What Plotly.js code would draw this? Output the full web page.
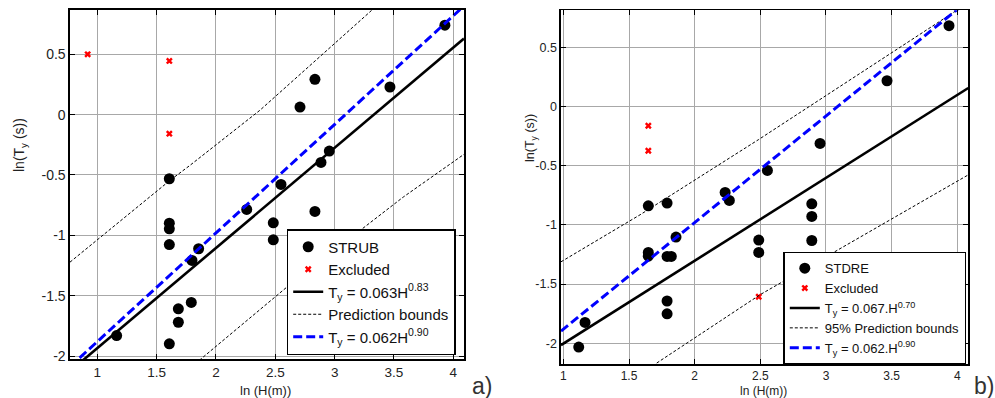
<!DOCTYPE html>
<html>
<head>
<meta charset="utf-8">
<script src="https://cdn.plot.ly/plotly-3.0.1.min.js"></script>
<style>
  html, body { margin: 0; padding: 0; background: #ffffff; }
  #chart { width: 995px; height: 398px; }
</style>
</head>
<body>
<div id="chart"></div>
<script>
// ---- Panel a) STRUB ----
const strubLnH = [3.929, 2.834, 2.708, 3.466, 2.955, 2.885, 2.548, 2.834, 2.483, 2.483, 2.259,
                  1.607, 1.607, 1.607, 1.607, 1.854, 1.798, 1.792, 1.683, 1.683, 1.607, 1.163];
const strubLnT = [0.741, 0.293, 0.063, 0.229, -0.302, -0.396, -0.578, -0.802, -0.896, -1.037, -0.785,
                  -0.531, -0.899, -0.946, -1.076, -1.111, -1.208, -1.556, -1.609, -1.720, -1.899, -1.830];
const strubExclLnH = [0.919, 1.607, 1.607];
const strubExclLnT = [0.500, 0.445, -0.158];
const strubFit = [0.063, 0.83];          // T_y = a * H^b
const strubUpperLnH = [0.77, 1.612, 1.781, 2.37, 3.297, 3.32];
const strubUpperLnT = [-1.222, -0.545, -0.420, 0.036, 0.851, 0.872];
const strubLowerLnH = [1.86, 2.596, 3.578, 4.098];
const strubLowerLnT = [-2.035, -1.430, -0.683, -0.323];

// ---- Panel b) STDRE ----
const stdreLnH = [3.937, 3.465, 2.955, 2.554, 2.892, 2.892, 2.892, 2.232, 2.264, 1.647, 1.790,
                  1.858, 1.647, 1.647, 1.790, 1.822, 1.790, 1.790, 1.165, 1.117, 2.488, 2.488];
const stdreLnT = [0.682, 0.217, -0.312, -0.540, -0.822, -0.929, -1.132, -0.726, -0.794, -0.839, -0.816,
                  -1.103, -1.233, -1.264, -1.267, -1.267, -1.643, -1.751, -1.824, -2.032, -1.128, -1.233];
const stdreExclLnH = [1.647, 1.647, 2.488];
const stdreExclLnT = [-0.163, -0.374, -1.607];
const stdreFit = [0.067, 0.70];
const stdreUpperLnH = [0.982, 1.584, 2.485, 3.920, 4.00];
const stdreUpperLnT = [-1.312, -0.915, -0.281, 0.760, 0.815];
const stdreLowerLnH = [1.711, 2.498, 4.085];
const stdreLowerLnT = [-2.167, -1.590, -0.577];

// Reference relation drawn on both panels
const refFit = [0.062, 0.90];

// Axis ranges and ticks
const rangeA_x = [0.77, 4.09], rangeA_y = [-2.027, 0.867];
const rangeB_x = [0.982, 4.084], rangeB_y = [-2.175, 0.812];
const xTickVals = [1, 1.5, 2, 2.5, 3, 3.5, 4];
const xTickText = ['1', '1.5', '2', '2.5', '3', '3.5', '4'];
const yTickVals = [-2, -1.5, -1, -0.5, 0, 0.5];
const yTickText = ['-2', '-1.5', '-1', '-0.5', '0', '0.5'];

const FONT = 'Liberation Sans, Arial, Helvetica, sans-serif';
const W = 995, H = 398;
const fx = p => p / W;
const fy = p => 1 - p / H;

// ln T = ln a + b ln H, evaluated at the ends of the x range
function powerLine(coef, xr) {
  return { x: xr.slice(), y: xr.map(v => Math.log(coef[0]) + coef[1] * v) };
}

const fitA = powerLine(strubFit, rangeA_x);
const refA = powerLine(refFit, rangeA_x);
const fitB = powerLine(stdreFit, rangeB_x);
const refB = powerLine(refFit, rangeB_x);

const dotMarker = { color: '#000000', size: 11, symbol: 'circle' };
const crossMarker = { color: '#ff0000', size: 6, symbol: 'x', line: { width: 0 } };

const traces = [
  // panel a
  { x: strubLnH, y: strubLnT, mode: 'markers', type: 'scatter', name: 'STRUB',
    marker: dotMarker, xaxis: 'x', yaxis: 'y', legend: 'legend' },
  { x: strubExclLnH, y: strubExclLnT, mode: 'markers', type: 'scatter', name: 'Excluded',
    marker: crossMarker, xaxis: 'x', yaxis: 'y', legend: 'legend' },
  { x: fitA.x, y: fitA.y, mode: 'lines', type: 'scatter', name: 'T<sub>y</sub> = 0.063H<sup>0.83</sup>',
    line: { color: '#000000', width: 2.6 }, xaxis: 'x', yaxis: 'y', legend: 'legend' },
  { x: strubUpperLnH, y: strubUpperLnT, mode: 'lines', type: 'scatter', name: 'Prediction bounds',
    line: { color: '#000000', width: 1, dash: '3px,2px' }, xaxis: 'x', yaxis: 'y', legend: 'legend' },
  { x: strubLowerLnH, y: strubLowerLnT, mode: 'lines', type: 'scatter', name: 'Prediction bounds',
    showlegend: false, line: { color: '#000000', width: 1, dash: '3px,2px' }, xaxis: 'x', yaxis: 'y' },
  { x: refA.x, y: refA.y, mode: 'lines', type: 'scatter', name: 'T<sub>y</sub> = 0.062H<sup>0.90</sup>',
    line: { color: '#0000ff', width: 3, dash: '9px,4px' }, xaxis: 'x', yaxis: 'y', legend: 'legend' },

  // panel b
  { x: stdreLnH, y: stdreLnT, mode: 'markers', type: 'scatter', name: 'STDRE',
    marker: dotMarker, xaxis: 'x2', yaxis: 'y2', legend: 'legend2' },
  { x: stdreExclLnH, y: stdreExclLnT, mode: 'markers', type: 'scatter', name: 'Excluded',
    marker: crossMarker, xaxis: 'x2', yaxis: 'y2', legend: 'legend2' },
  { x: fitB.x, y: fitB.y, mode: 'lines', type: 'scatter', name: 'T<sub>y</sub> = 0.067.H<sup>0.70</sup>',
    line: { color: '#000000', width: 2.6 }, xaxis: 'x2', yaxis: 'y2', legend: 'legend2' },
  { x: stdreUpperLnH, y: stdreUpperLnT, mode: 'lines', type: 'scatter', name: '95% Prediction bounds',
    line: { color: '#000000', width: 1, dash: '3px,2px' }, xaxis: 'x2', yaxis: 'y2', legend: 'legend2' },
  { x: stdreLowerLnH, y: stdreLowerLnT, mode: 'lines', type: 'scatter', name: '95% Prediction bounds',
    showlegend: false, line: { color: '#000000', width: 1, dash: '3px,2px' }, xaxis: 'x2', yaxis: 'y2' },
  { x: refB.x, y: refB.y, mode: 'lines', type: 'scatter', name: 'T<sub>y</sub> = 0.062.H<sup>0.90</sup>',
    line: { color: '#0000ff', width: 3, dash: '9px,4px' }, xaxis: 'x2', yaxis: 'y2', legend: 'legend2' }
];

function axis(range, domain, tv, tt, fontSize, anchor) {
  return {
    range: range, domain: domain, anchor: anchor,
    tickmode: 'array', tickvals: tv, ticktext: tt,
    showgrid: true, gridcolor: '#a8a8a8', gridwidth: 1,
    showline: true, linecolor: '#000000', linewidth: 1.6, mirror: 'ticks',
    ticks: 'inside', ticklen: 5, tickwidth: 1, tickcolor: '#000000',
    zeroline: false, fixedrange: true,
    tickfont: { family: FONT, size: fontSize, color: '#222222' }
  };
}

const xa = axis(rangeA_x, [fx(70), fx(464)], xTickVals, xTickText, 13.5, 'y');
const xb = axis(rangeB_x, [fx(561), fx(968.3)], xTickVals, xTickText, 12, 'y2');

const layout = {
  width: W, height: H,
  margin: { l: 0, r: 0, t: 0, b: 0 },
  paper_bgcolor: '#ffffff', plot_bgcolor: '#ffffff',
  showlegend: true,
  xaxis: xa,
  yaxis: axis(rangeA_y, [fy(359.3), fy(10)], yTickVals, yTickText, 14, 'x'),
  xaxis2: xb,
  yaxis2: axis(rangeB_y, [fy(364), fy(10.3)], yTickVals, yTickText, 12.5, 'x2'),
  legend: {
    x: fx(286.7), y: fy(229), xanchor: 'left', yanchor: 'top',
    bgcolor: '#ffffff', bordercolor: '#000000', borderwidth: 1.5,
    font: { family: FONT, size: 15, color: '#111111' },
    tracegroupgap: 0, itemwidth: 30
  },
  legend2: {
    x: fx(783.3), y: fy(251.7), xanchor: 'left', yanchor: 'top',
    bgcolor: '#ffffff', bordercolor: '#000000', borderwidth: 1.5,
    font: { family: FONT, size: 13, color: '#111111' },
    tracegroupgap: 0, itemwidth: 30
  },
  annotations: [
    { text: 'ln (H(m))', xref: 'paper', yref: 'paper', x: fx(265), y: fy(390),
      showarrow: false, xanchor: 'center', yanchor: 'middle',
      font: { family: FONT, size: 13, color: '#222222' } },
    { text: 'ln (H(m))', xref: 'paper', yref: 'paper', x: fx(763), y: fy(391),
      showarrow: false, xanchor: 'center', yanchor: 'middle',
      font: { family: FONT, size: 12, color: '#222222' } },
    { text: 'ln(T<sub>y</sub> (s))', xref: 'paper', yref: 'paper', x: fx(20), y: fy(145),
      showarrow: false, textangle: -90, xanchor: 'center', yanchor: 'middle',
      font: { family: FONT, size: 14, color: '#222222' } },
    { text: 'ln(T<sub>y</sub> (s))', xref: 'paper', yref: 'paper', x: fx(531), y: fy(138),
      showarrow: false, textangle: -90, xanchor: 'center', yanchor: 'middle',
      font: { family: FONT, size: 12.5, color: '#222222' } },
    { text: 'a)', xref: 'paper', yref: 'paper', x: fx(482), y: fy(386),
      showarrow: false, xanchor: 'center', yanchor: 'middle',
      font: { family: FONT, size: 23, color: '#333333' } },
    { text: 'b)', xref: 'paper', yref: 'paper', x: fx(984), y: fy(386),
      showarrow: false, xanchor: 'center', yanchor: 'middle',
      font: { family: FONT, size: 23, color: '#333333' } }
  ]
};

Plotly.newPlot('chart', traces, layout, { displayModeBar: false, staticPlot: true });
</script>
</body>
</html>
